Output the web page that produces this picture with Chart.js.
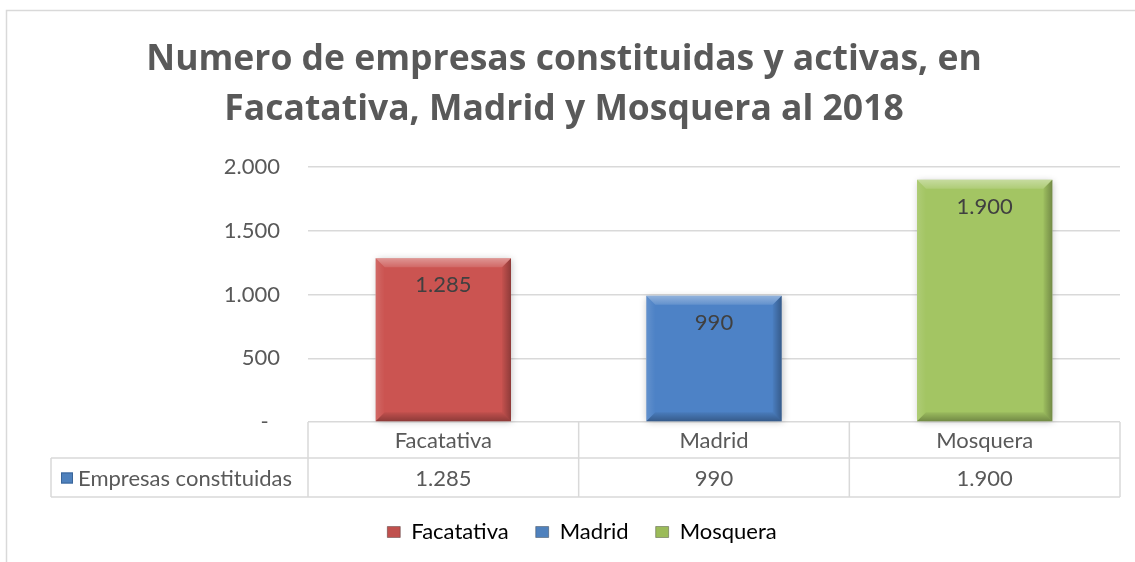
<!DOCTYPE html>
<html><head><meta charset="utf-8">
<script src="https://cdn.jsdelivr.net/npm/chart.js@4"></script>
<style>html,body{margin:0;padding:0;background:#fff;overflow:hidden}</style>
</head><body>
<canvas id="c" width="1135" height="562" style="display:block;width:1135px;height:562px"></canvas>
<script>
const titleLines = ['Numero de empresas constituidas y activas, en', 'Facatativa, Madrid y Mosquera al 2018'];
const categories = ['Facatativa', 'Madrid', 'Mosquera'];
const seriesName = 'Empresas constituidas';
const values = [1285, 990, 1900];
const yTicks = [0, 500, 1000, 1500, 2000];
const barColors = ['#CB5451', '#4D82C6', '#A3C563'];
const keyColors = ['#C0504D', '#4F81BD', '#9BBB59'];

const FONT = 'Lato, "Liberation Sans", sans-serif';
const TITLE_FONT = '"Open Sans", Lato, sans-serif';
const FS = 22;
const TXT = '#595959';
const GRID = '#D9D9D9';

function fmt(v) { return String(v).replace(/\B(?=(\d{3})+(?!\d))/g, '.'); }

const framePlugin = {
  id: 'frame',
  beforeDraw(chart) {
    const ctx = chart.ctx;
    ctx.save();
    ctx.fillStyle = '#fff';
    ctx.fillRect(0, 0, chart.width, chart.height);
    ctx.strokeStyle = GRID;
    ctx.lineWidth = 1.5;
    ctx.strokeRect(6.5, 10.5, 1400, 800);
    ctx.restore();
  },
  afterLayout(chart) {
    if (chart.legend) {
      chart.legend.left += 18; chart.legend.right += 18;
      chart.legend.top -= 4; chart.legend.bottom -= 4;
    }
  }
};

const bevelPlugin = {
  id: 'bevel',
  beforeDatasetsDraw(chart) {
    const ctx = chart.ctx;
    const meta = chart.getDatasetMeta(0);
    ctx.save();
    meta.data.forEach((el) => {
      const w = el.width, l = el.x - w / 2, t = el.y, h = el.base - el.y;
      ctx.shadowColor = 'rgba(0,0,0,0.25)';
      ctx.shadowBlur = 7;
      ctx.shadowOffsetX = 1;
      ctx.shadowOffsetY = 1;
      ctx.fillStyle = '#ddd';
      ctx.fillRect(l, t, w, h);
    });
    ctx.restore();
  },
  afterDatasetsDraw(chart) {
    const ctx = chart.ctx;
    const meta = chart.getDatasetMeta(0);
    ctx.save();
    meta.data.forEach((el, i) => {
      const w = el.width, l = el.x - w / 2, r = el.x + w / 2, t = el.y, b = el.base;
      const bv = 9;
      const poly = (pts, fill) => {
        ctx.beginPath();
        ctx.moveTo(pts[0][0], pts[0][1]);
        for (let k = 1; k < pts.length; k++) ctx.lineTo(pts[k][0], pts[k][1]);
        ctx.closePath();
        ctx.fillStyle = fill;
        ctx.fill();
      };
      const gt = ctx.createLinearGradient(0, t, 0, t + bv);
      gt.addColorStop(0, 'rgba(255,255,255,0.38)');
      gt.addColorStop(1, 'rgba(255,255,255,0.12)');
      poly([[l, t], [r, t], [r - bv, t + bv], [l + bv, t + bv]], gt);
      const gl = ctx.createLinearGradient(l, 0, l + bv, 0);
      gl.addColorStop(0, 'rgba(255,255,255,0.12)');
      gl.addColorStop(1, 'rgba(255,255,255,0.0)');
      poly([[l, t], [l + bv, t + bv], [l + bv, b - bv], [l, b]], gl);
      const gr = ctx.createLinearGradient(r - bv, 0, r, 0);
      gr.addColorStop(0, 'rgba(0,0,0,0.03)');
      gr.addColorStop(1, 'rgba(0,0,0,0.30)');
      poly([[r, t], [r, b], [r - bv, b - bv], [r - bv, t + bv]], gr);
      const gb = ctx.createLinearGradient(0, b - bv, 0, b);
      gb.addColorStop(0, 'rgba(0,0,0,0.05)');
      gb.addColorStop(1, 'rgba(0,0,0,0.30)');
      poly([[l, b], [r, b], [r - bv, b - bv], [l + bv, b - bv]], gb);

      ctx.fillStyle = '#404040';
      ctx.font = FS + 'px ' + FONT;
      ctx.textAlign = 'center';
      ctx.textBaseline = 'middle';
      ctx.fillText(fmt(values[i]), el.x, t + 27);
    });
    ctx.restore();
  }
};

const tablePlugin = {
  id: 'dataTable',
  afterDraw(chart) {
    const ctx = chart.ctx;
    const area = chart.chartArea;
    const xs = chart.scales.x;
    const n = categories.length;
    const cw = (area.right - area.left) / n;
    const edges = [];
    for (let k = 0; k <= n; k++) edges.push(area.left + k * cw);
    const hTop = area.bottom, hBot = area.bottom + 36, rBot = hBot + 39;
    const labelLeft = 51;
    ctx.save();
    ctx.strokeStyle = GRID;
    ctx.lineWidth = 1.5;
    ctx.beginPath();
    edges.forEach(x => { ctx.moveTo(x, hTop); ctx.lineTo(x, rBot); });
    ctx.moveTo(labelLeft, hBot); ctx.lineTo(area.right, hBot);
    ctx.moveTo(labelLeft, rBot); ctx.lineTo(area.right, rBot);
    ctx.moveTo(labelLeft, hBot); ctx.lineTo(labelLeft, rBot);
    ctx.stroke();

    ctx.fillStyle = TXT;
    ctx.font = FS + 'px ' + FONT;
    ctx.textBaseline = 'middle';
    ctx.textAlign = 'center';
    categories.forEach((c, i) => {
      const cx = xs.getPixelForValue(i);
      ctx.fillText(c, cx, (hTop + hBot) / 2 + 1);
      ctx.fillText(fmt(values[i]), cx, (hBot + rBot) / 2 + 1);
    });
    const my = (hBot + rBot) / 2;
    ctx.fillStyle = keyColors[1];
    ctx.fillRect(labelLeft + 10, my - 5, 12, 11);
    ctx.strokeStyle = '#3A6599';
    ctx.lineWidth = 1;
    ctx.strokeRect(labelLeft + 10.5, my - 4.5, 11, 10);
    ctx.fillStyle = TXT;
    ctx.textAlign = 'left';
    ctx.fillText(seriesName, labelLeft + 27, my + 1);
    ctx.restore();
  }
};

new Chart(document.getElementById('c'), {
  type: 'bar',
  data: {
    labels: categories,
    datasets: [{
      label: seriesName,
      data: values,
      backgroundColor: barColors,
      borderWidth: 0,
      categoryPercentage: 1,
      barPercentage: 0.5
    }]
  },
  options: {
    responsive: false,
    animation: false,
    devicePixelRatio: 1,
    layout: { padding: { left: 8, right: 15, top: 10, bottom: 5 } },
    plugins: {
      title: {
        display: true,
        text: titleLines,
        color: TXT,
        font: { family: TITLE_FONT, size: 35.5, weight: 'bold', lineHeight: 1.41 },
        padding: { top: 25, bottom: 32 }
      },
      legend: {
        position: 'bottom',
        labels: {
          color: TXT,
          font: { family: FONT, size: FS },
          boxWidth: 13,
          boxHeight: 11,
          padding: 27,
          generateLabels: () => categories.map((c, i) => ({
            text: c, fillStyle: keyColors[i], strokeStyle: 'rgba(0,0,0,0.3)', lineWidth: 1, index: i, hidden: false
          }))
        }
      },
      tooltip: { enabled: false }
    },
    scales: {
      x: {
        display: true,
        grid: { display: false },
        border: { display: false },
        ticks: { display: false },
        afterFit: s => { s.height = 76; }
      },
      y: {
        min: 0, max: 2000,
        afterBuildTicks: s => { s.ticks = yTicks.map(v => ({ value: v })); },
        ticks: {
          color: TXT,
          font: { family: FONT, size: FS },
          padding: 28,
          callback: v => v === 0 ? '-  ' : fmt(v)
        },
        grid: { color: GRID, lineWidth: 1.5, drawTicks: false },
        border: { display: false },
        afterFit: s => { s.width = 300; }
      }
    }
  },
  plugins: [framePlugin, bevelPlugin, tablePlugin]
});
</script>
</body></html>
